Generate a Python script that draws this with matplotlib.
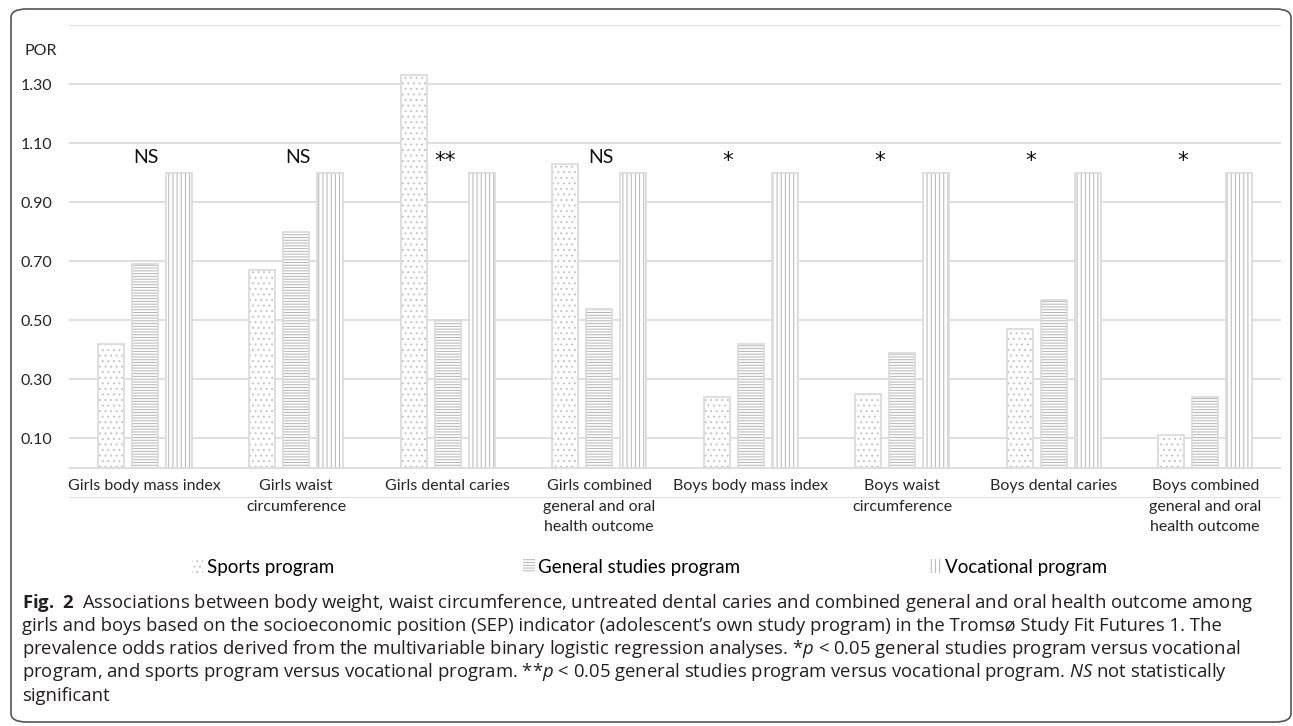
import matplotlib
matplotlib.use("Agg")
import matplotlib.pyplot as plt
import numpy as np
from matplotlib.patches import Patch, FancyBboxPatch

categories = ["Girls body mass index", "Girls waist\ncircumference", "Girls dental caries",
              "Girls combined\ngeneral and oral\nhealth outcome", "Boys body mass index",
              "Boys waist\ncircumference", "Boys dental caries",
              "Boys combined\ngeneral and oral\nhealth outcome"]
sports = [0.42, 0.67, 1.33, 1.03, 0.24, 0.25, 0.47, 0.11]
general = [0.69, 0.80, 0.50, 0.54, 0.42, 0.39, 0.57, 0.24]
vocational = [1.00, 1.00, 1.00, 1.00, 1.00, 1.00, 1.00, 1.00]
significance = ["NS", "NS", "**", "NS", "*", "*", "*", "*"]
series_names = ["Sports program", "General studies program", "Vocational program"]
ytick_vals = [-0.1, 0.1, 0.3, 0.5, 0.7, 0.9, 1.1, 1.3, 1.5]
ytick_labels = ["", "0.10", "0.30", "0.50", "0.70", "0.90", "1.10", "1.30", ""]

FONT = "Lato"
CAPFONT = "Open Sans"
plt.rcParams['font.family'] = [FONT, 'DejaVu Sans']
plt.rcParams['hatch.linewidth'] = 0.7
plt.rcParams['mathtext.fontset'] = 'custom'
plt.rcParams['mathtext.rm'] = CAPFONT
plt.rcParams['mathtext.it'] = CAPFONT + ':italic'
plt.rcParams['mathtext.bf'] = CAPFONT + ':bold'

W, H = 1293, 726
fig = plt.figure(figsize=(W/100, H/100), dpi=100)
ax = fig.add_axes([69/W, 1-497.5/H, (1281-69)/W, (497.5-25)/H])

x = np.arange(len(categories))
bw = 26/151.5
off = 34/151.5
hatches = ['...', '------', '||||']
hcols = ['#c4c4c4', '#b4b4b4', '#b4b4b4']
for i, (vals, h, hc) in enumerate(zip([sports, general, vocational], hatches, hcols)):
    xs = x + (i-1)*off
    ax.bar(xs, vals, bw, color='white', edgecolor=hc, hatch=h, linewidth=0, zorder=2)
    ax.bar(xs, vals, bw, color='none', edgecolor='#dcdcdc', linewidth=1.3, zorder=3)

ax.set_xlim(-0.5, len(categories)-0.5)
ax.set_ylim(-0.1, 1.5)
ax.set_yticks(ytick_vals)
ax.set_yticklabels(ytick_labels)
ax.tick_params(axis='y', length=0, pad=12, labelsize=11.5, labelcolor='#262626')
ax.yaxis.grid(True, color='#dcdcdc', linewidth=1.3, zorder=0)
ax.set_axisbelow(True)
ax.set_xticks([])
for s in ax.spines.values():
    s.set_visible(False)
ax.axhline(0, color='#dcdcdc', linewidth=1.3, zorder=1)

for xi, lab in zip(x, categories):
    ax.annotate(lab, (xi, 0), xytext=(0, -8), textcoords='offset points',
                ha='center', va='top', fontsize=11.5, color='#262626', linespacing=1.6,
                zorder=5)

for xi, s in zip(x, significance):
    if s == "NS":
        ax.text(xi + 0.01, 1.05, s, ha='center', va='center', fontsize=14, color='#111111')
    else:
        ax.text(xi + (-0.15 if s == "*" else -0.02), 1.04, s,
                ha='center', va='center', fontsize=15.5, color='#111111',
                family=['DejaVu Sans'])

ax.text(-0.0095, 1.5 - 13/29.5*0.2, "POR", transform=ax.get_yaxis_transform(),
        ha='right', va='center', fontsize=11.5, color='#262626')

handles = [Patch(facecolor='white', edgecolor=c, hatch=h, linewidth=0) for h, c in zip(hatches, hcols)]
fig.legend(handles, series_names, loc='center', bbox_to_anchor=(0.5023, 1-567/H), ncol=3,
           frameon=False, fontsize=13.5, handlelength=0.6, handleheight=0.7, handletextpad=0.2,
           columnspacing=10.1)

caption = [
    r"$\mathbf{Fig.\ 2}$  Associations between body weight, waist circumference, untreated dental caries and combined general and oral health outcome among",
    "girls and boys based on the socioeconomic position (SEP) indicator (adolescent’s own study program) in the Tromsø Study Fit Futures 1. The",
    r"prevalence odds ratios derived from the multivariable binary logistic regression analyses. *$p$ < 0.05 general studies program versus vocational",
    r"program, and sports program versus vocational program. **$p$ < 0.05 general studies program versus vocational program. $NS$ not statistically",
    "significant",
]
ys = [603, 626, 649, 672, 696]
for line, yy in zip(caption, ys):
    fig.text(22/W, 1-yy/H, line, ha='left', va='center', fontsize=13.3, family=CAPFONT,
             color='#231f20')

border = FancyBboxPatch((11/W, 1-722/H), (1291-11)/W, (722-9)/H,
                        boxstyle="round,pad=0,rounding_size=0.012", transform=fig.transFigure,
                        facecolor='none', edgecolor='#555555', linewidth=1.2)
fig.patches.append(border)

fig.savefig("out.png", dpi=100)
